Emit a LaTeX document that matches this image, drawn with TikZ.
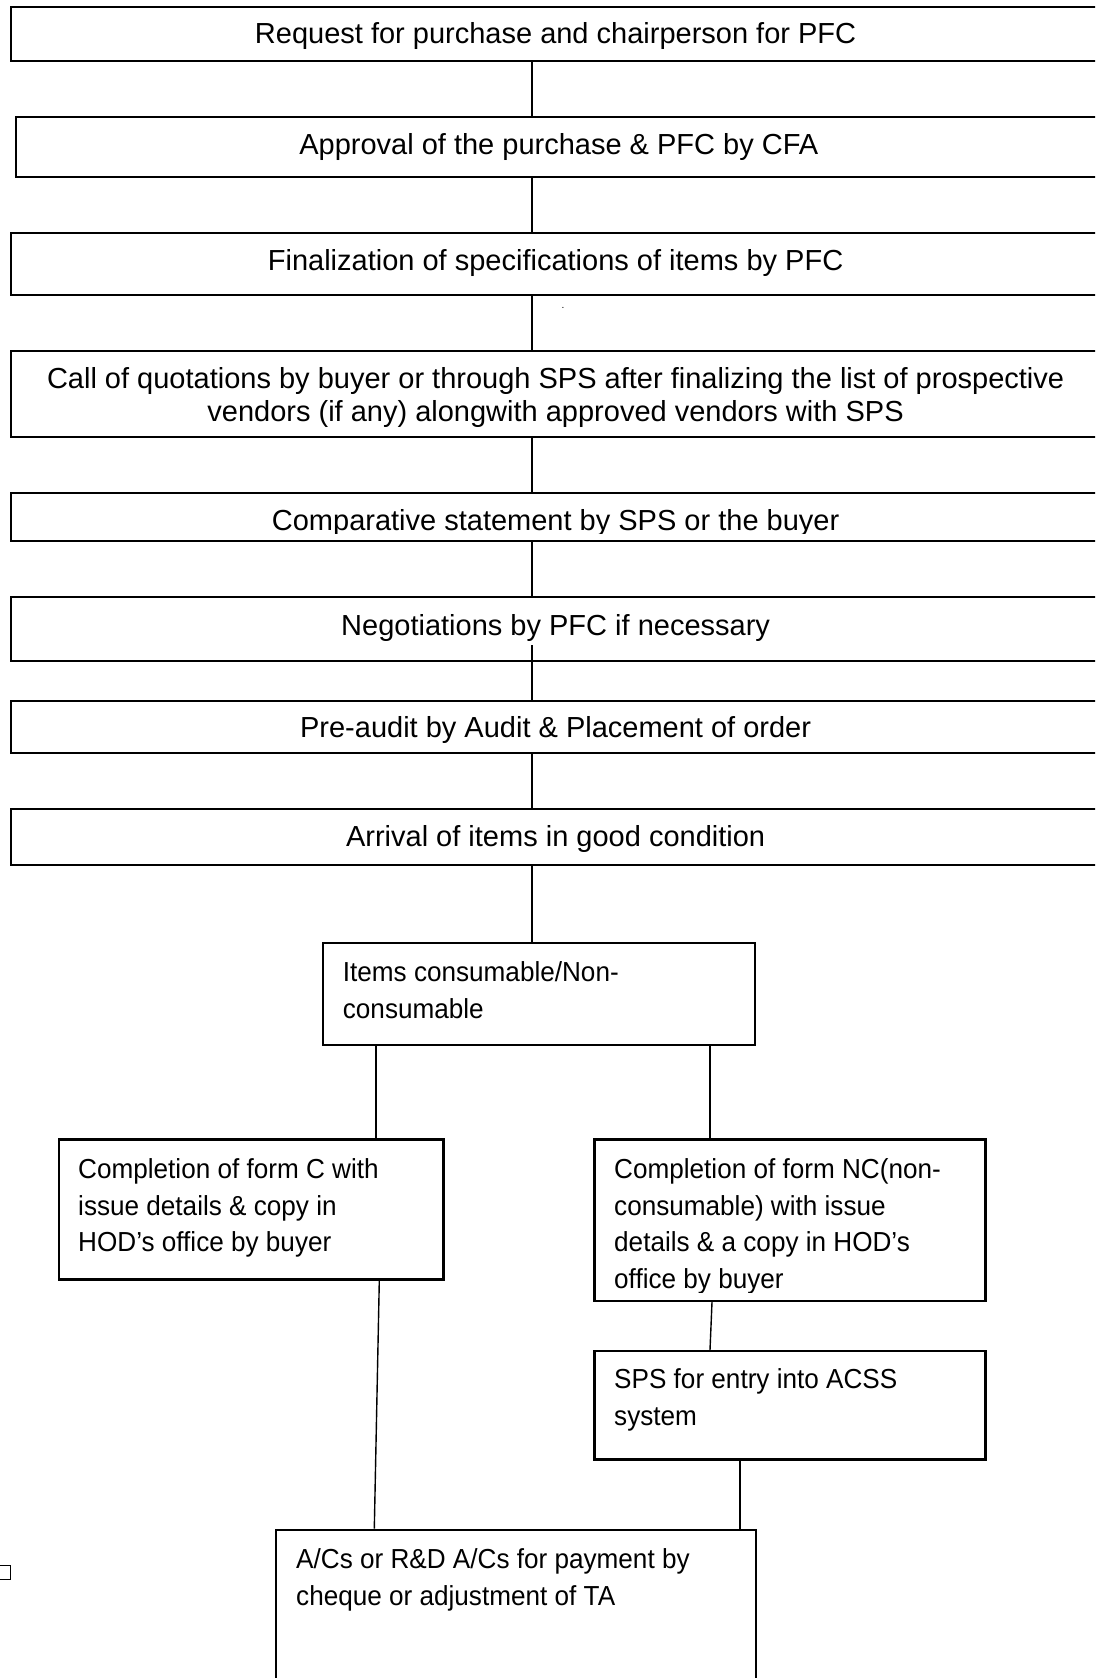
\documentclass[tikz,border=0pt]{standalone}
\usepackage{fontspec}
\setmainfont{Liberation Sans}
\newfontfamily\narrowsans[FakeStretch=0.95]{Liberation Sans}
\usetikzlibrary{calc}

\tikzset{
  stage/.style={draw, line width=2.2pt, anchor=north west, inner sep=0pt},
  stagetext/.style={anchor=base, align=center, inner sep=0pt,
    font=\fontsize{29}{33.4}\selectfont},
  branchtext/.style={anchor=base west, align=left, inner sep=0pt,
    font=\narrowsans\fontsize{27.5}{36.7}\selectfont},
  link/.style={line width=1.4pt}
}

\begin{document}
\begin{tikzpicture}[x=1pt, y=-1pt]
    \useasboundingbox (0,0) rectangle (1095,1678);
    \clip (0,0) rectangle (1095,1678);

    % main column (text nodes sit on the baseline of their last line)
    \node [stage, minimum width=1091, minimum height=54] (b1) at (10,6) {};
    \node [stagetext] (t1) at (555.6,43.3) {Request for purchase and chairperson for PFC};
    \node [stage, minimum width=1088, minimum height=60] (b2) at (14.7,116) {};
    \node [stagetext] (t2) at (558.8,154) {Approval of the purchase \& PFC by CFA};
    \node [stage, minimum width=1091, minimum height=62] (b3) at (10,232) {};
    \node [stagetext] (t3) at (555.6,270) {Finalization of specifications of items by PFC};
    \node [font=\fontsize{10}{10}\selectfont, inner sep=0pt] (dot) at (563,308) {.};
    \node [stage, minimum width=1091, minimum height=86] (b4) at (10,350) {};
    \node [stagetext] (t4) at (555.6,421.7) {Call of quotations by buyer or through SPS after finalizing the list of prospective\\vendors (if any) alongwith approved vendors with SPS};
    \node [stage, minimum width=1091, minimum height=48] (b5) at (10,492) {};
    \begin{scope}
      \clip (b5.north west) rectangle ($(b5.south east)+(0,-9)$);
      \node [stagetext] (t5) at (555.6,530) {Comparative statement by SPS or the buyer};
    \end{scope}
    \node [stage, minimum width=1091, minimum height=64] (b6) at (10,596) {};
    \node [stagetext] (t6) at (555.6,635) {Negotiations by PFC if necessary};
    \node [stage, minimum width=1091, minimum height=52] (b7) at (10,700) {};
    \node [stagetext] (t7) at (555.6,737.3) {Pre-audit by Audit \& Placement of order};
    \node [stage, minimum width=1091, minimum height=56] (b8) at (10,808) {};
    \node [stagetext] (t8) at (555.6,846) {Arrival of items in good condition};

    % split into consumable / non-consumable
    \node [stage, minimum width=432.3, minimum height=102] (b9) at (321.7,942) {};
    \node [branchtext] (t9) at (342.7,1018.4) {Items consumable/Non-\\consumable};

    \coordinate (spine) at (532,0);
    \draw [link] (b1.south -| spine) -- (b2.north -| spine);
    \draw [link] (b2.south -| spine) -- (b3.north -| spine);
    \draw [link] (b3.south -| spine) -- (b4.north -| spine);
    \draw [link] (b4.south -| spine) -- (b5.north -| spine);
    \draw [link] (b5.south -| spine) -- (b6.north -| spine);
    \draw [link] ($(b6.south -| spine)+(0,-17)$) -- (b7.north -| spine);
    \draw [link] (b7.south -| spine) -- (b8.north -| spine);
    \draw [link] (b8.south -| spine) -- (b9.north -| spine);

    \node [stage, minimum width=384.5, minimum height=140] (b10) at (57.8,1138.3) {};
    \node [branchtext] (t10) at (78,1251.7) {Completion of form C with\\issue details \& copy in\\HOD’s office by buyer};

    \node [stage, minimum width=391, minimum height=161.7] (b11) at (593.3,1138.3) {};
    \begin{scope}
      \clip (b11.north west) rectangle ($(b11.south east)+(0,-10)$);
      \node [branchtext] (t11) at (614,1288.4) {Completion of form NC(non-\\consumable) with issue\\details \& a copy in HOD’s\\office by buyer};
    \end{scope}

    \node [stage, minimum width=391, minimum height=108.3] (b12) at (593.3,1350) {};
    \node [branchtext] (t12) at (614,1425) {SPS for entry into ACSS\\system};

    \node [stage, minimum width=479.6, minimum height=220] (b13) at (275,1528.5) {};
    \node [branchtext] (t13) at (296,1605.2) {A/Cs or R\&D A/Cs for payment by\\cheque or adjustment of TA};

    \node [stage, line width=1.4pt, minimum width=13, minimum height=14] (stray) at (-3,1565) {};

    \coordinate (cleft) at (376,0);
    \coordinate (cright) at (710,0);
    \draw [link] (b9.south -| cleft) -- (b10.north -| cleft);
    \draw [link] (b9.south -| cright) -- (b11.north -| cright);
    \draw [link] ($(b11.south west)+(118.7,0)$) -- ($(b12.north west)+(116.7,0)$);
    \draw [link] ($(b10.south west)+(321.5,0)$) -- ($(b13.north west)+(99.3,0)$);
    \draw [link] ($(b12.south west)+(146.7,-2)$) -- ($(b13.north west)+(465,0)$);
\end{tikzpicture}
\end{document}
